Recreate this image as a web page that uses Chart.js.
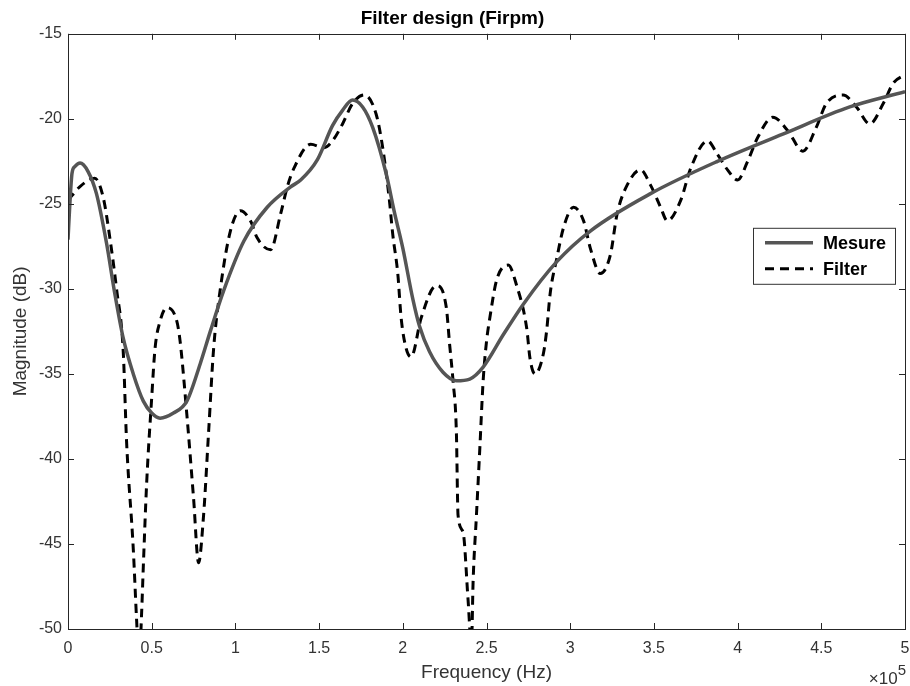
<!DOCTYPE html>
<html>
<head>
<meta charset="utf-8">
<script src="https://cdn.jsdelivr.net/npm/chart.js@4.4.0/dist/chart.umd.min.js"></script>
<style>
  html, body { margin: 0; padding: 0; background: #fff; }
  #wrap { width: 910px; height: 686px; }
</style>
</head>
<body>
<div id="wrap"><canvas id="filterChart"></canvas></div>
<script>
// frequency in units of 10^5 Hz, magnitude in dB
const mesureFreq = [0, 0.01, 0.024, 0.042, 0.072, 0.12, 0.17, 0.23, 0.28, 0.33, 0.39, 0.45, 0.5, 0.55, 0.63, 0.71, 0.79, 0.85, 0.93, 1.05, 1.19, 1.33, 1.39, 1.49, 1.58, 1.64, 1.70, 1.76, 1.82, 1.90, 1.95, 2.00, 2.06, 2.10, 2.16, 2.24, 2.32, 2.40, 2.48, 2.60, 2.72, 2.92, 3.12, 3.48, 3.88, 4.27, 4.67, 5.0];
const mesureDb = [-27.1, -25.2, -23.2, -22.8, -22.6, -23.1, -24.4, -27.3, -30.3, -32.9, -35.0, -36.6, -37.3, -37.6, -37.3, -36.6, -34.4, -32.5, -30.1, -27.2, -25.2, -24.0, -23.6, -22.4, -20.4, -19.5, -18.9, -19.3, -20.5, -23.2, -25.5, -27.6, -30.6, -32.2, -33.7, -34.9, -35.4, -35.3, -34.6, -32.7, -30.9, -28.4, -26.6, -24.4, -22.5, -20.9, -19.3, -18.4];

const filterFreq = [0, 0.07, 0.16, 0.21, 0.25, 0.29, 0.33, 0.35, 0.39, 0.41, 0.425, 0.44, 0.45, 0.47, 0.50, 0.52, 0.55, 0.59, 0.65, 0.67, 0.71, 0.75, 0.78, 0.81, 0.84, 0.87, 0.91, 0.97, 1.03, 1.09, 1.13, 1.21, 1.27, 1.31, 1.35, 1.45, 1.53, 1.58, 1.64, 1.70, 1.77, 1.84, 1.88, 1.92, 1.94, 1.97, 1.99, 2.02, 2.05, 2.11, 2.20, 2.26, 2.28, 2.30, 2.32, 2.33, 2.36, 2.39, 2.41, 2.42, 2.44, 2.46, 2.48, 2.50, 2.52, 2.56, 2.63, 2.68, 2.74, 2.76, 2.79, 2.84, 2.86, 2.88, 2.92, 2.96, 3.02, 3.08, 3.12, 3.18, 3.24, 3.28, 3.34, 3.42, 3.48, 3.54, 3.58, 3.66, 3.72, 3.82, 3.88, 3.94, 4.00, 4.06, 4.12, 4.21, 4.30, 4.39, 4.47, 4.53, 4.63, 4.71, 4.79, 4.87, 4.93, 5.0];
const filterDb = [-24.8, -24.0, -23.5, -24.6, -27.0, -30.0, -33.7, -39.0, -45.3, -49.5, -52.0, -49.0, -46.3, -41.4, -36.4, -33.5, -31.9, -31.1, -31.9, -33.1, -37.4, -42.3, -46.1, -43.3, -38.4, -33.5, -30.0, -26.6, -25.4, -26.0, -27.0, -27.7, -25.6, -24.0, -22.9, -21.5, -21.7, -21.3, -20.3, -19.1, -18.6, -19.7, -21.7, -24.8, -26.8, -29.1, -31.7, -33.5, -34.0, -31.7, -29.8, -31.1, -33.3, -35.4, -38.4, -43.3, -44.3, -48.3, -51.0, -47.2, -43.3, -39.4, -35.4, -33.1, -31.7, -29.5, -28.6, -29.8, -32.3, -34.1, -35.0, -33.8, -32.4, -30.3, -28.2, -26.4, -25.2, -26.0, -27.6, -29.1, -28.0, -25.6, -23.9, -23.0, -23.9, -25.2, -26.0, -24.8, -22.9, -21.3, -22.1, -23.0, -23.6, -22.5, -21.1, -19.9, -20.7, -21.9, -20.5, -19.1, -18.6, -19.3, -20.3, -19.1, -17.9, -17.4];

const xTicks = [0, 0.5, 1, 1.5, 2, 2.5, 3, 3.5, 4, 4.5, 5];
const yTicks = [-50, -45, -40, -35, -30, -25, -20, -15];

const axisColor = '#262626';
const fontFamily = '"Liberation Sans", Arial, Helvetica, sans-serif';

function toPoints(xs, ys) {
  return xs.map((x, i) => ({ x: x, y: ys[i] }));
}

// MATLAB-like box with inward ticks on all four sides, plus the x10^5 exponent
const matlabAxes = {
  id: 'matlabAxes',
  afterDatasetsDraw(chart) {
    const ctx = chart.ctx;
    const a = chart.chartArea;
    const xs = chart.scales.x, ys = chart.scales.y;
    const tl = 6;
    ctx.save();
    ctx.strokeStyle = axisColor;
    ctx.lineWidth = 1;
    ctx.beginPath();
    xTicks.forEach(v => {
      const px = Math.round(xs.getPixelForValue(v)) + 0.5;
      ctx.moveTo(px, a.bottom); ctx.lineTo(px, a.bottom - tl);
      ctx.moveTo(px, a.top); ctx.lineTo(px, a.top + tl);
    });
    yTicks.forEach(v => {
      const py = Math.round(ys.getPixelForValue(v)) + 0.5;
      ctx.moveTo(a.left, py); ctx.lineTo(a.left + tl, py);
      ctx.moveTo(a.right, py); ctx.lineTo(a.right - tl, py);
    });
    ctx.stroke();
    ctx.strokeRect(Math.round(a.left) + 0.5, Math.round(a.top) + 0.5,
      Math.round(a.right - a.left), Math.round(a.bottom - a.top));

    // exponent label
    ctx.fillStyle = '#333';
    ctx.textBaseline = 'alphabetic';
    ctx.textAlign = 'right';
    ctx.font = '15px ' + fontFamily;
    ctx.fillText('5', a.right + 1, 675);
    const w5 = ctx.measureText('5').width;
    ctx.font = '17px ' + fontFamily;
    ctx.fillText('\u00d710', a.right + 1 - w5, 684);
    ctx.restore();
  }
};

// legend box inside the plot, upper right
const boxLegend = {
  id: 'boxLegend',
  afterDraw(chart) {
    const ctx = chart.ctx;
    const a = chart.chartArea;
    const right = a.right - 10;
    const left = right - 142;
    const top = a.top + 194;
    const h = 56;
    ctx.save();
    ctx.fillStyle = '#fff';
    ctx.fillRect(left, top, right - left, h);
    ctx.strokeStyle = '#333';
    ctx.lineWidth = 1;
    ctx.strokeRect(left + 0.5, top + 0.5, right - left, h);
    ctx.font = 'bold 18px ' + fontFamily;
    ctx.textBaseline = 'middle';
    ctx.textAlign = 'left';
    chart.data.datasets.forEach((ds, i) => {
      const y = top + 15 + i * 26;
      ctx.strokeStyle = ds.borderColor;
      ctx.lineWidth = ds.borderWidth;
      ctx.setLineDash(ds.borderDash || []);
      ctx.beginPath();
      ctx.moveTo(left + 12, y);
      ctx.lineTo(left + 60, y);
      ctx.stroke();
      ctx.setLineDash([]);
      ctx.fillStyle = '#000';
      ctx.fillText(ds.label, left + 70, y + 1);
    });
    ctx.restore();
  }
};

const ctx = document.getElementById('filterChart').getContext('2d');
const chart = new Chart(ctx, {
  type: 'line',
  data: {
    datasets: [{
      label: 'Mesure',
      data: toPoints(mesureFreq, mesureDb),
      borderColor: '#555555',
      borderWidth: 3.5,
      pointRadius: 0,
      cubicInterpolationMode: 'monotone',
      fill: false
    }, {
      label: 'Filter',
      data: toPoints(filterFreq, filterDb),
      borderColor: '#000000',
      borderWidth: 3,
      borderDash: [9, 6],
      pointRadius: 0,
      cubicInterpolationMode: 'monotone',
      fill: false
    }]
  },
  options: {
    responsive: true,
    maintainAspectRatio: false,
    animation: false,
    layout: { padding: { left: 0, right: 5, top: 0, bottom: 0 } },
    plugins: {
      legend: { display: false },
      tooltip: { enabled: false },
      title: {
        display: true,
        text: 'Filter design (Firpm)',
        color: '#000',
        font: { family: fontFamily, size: 19, weight: 'bold' },
        padding: { top: 7, bottom: 4 }
      }
    },
    scales: {
      x: {
        type: 'linear',
        min: 0,
        max: 5,
        afterFit: s => { s.height = 57; s.paddingLeft = 0; s.paddingRight = 0; },
        afterBuildTicks: s => { s.ticks = xTicks.map(v => ({ value: v })); },
        ticks: {
          color: '#333',
          padding: 10,
          maxRotation: 0,
          font: { family: fontFamily, size: 16 },
          callback: v => String(v)
        },
        grid: { display: false, drawTicks: false },
        border: { display: false },
        title: {
          display: true,
          text: 'Frequency (Hz)',
          color: '#333',
          font: { family: fontFamily, size: 19 },
          padding: { top: 0, bottom: 2 }
        }
      },
      y: {
        min: -50,
        max: -15,
        afterFit: s => { s.width = 68; s.paddingTop = 0; s.paddingBottom = 0; },
        afterBuildTicks: s => { s.ticks = yTicks.map(v => ({ value: v })); },
        ticks: {
          color: '#333',
          padding: 6,
          font: { family: fontFamily, size: 16 },
          callback: v => String(v)
        },
        grid: { display: false, drawTicks: false },
        border: { display: false },
        title: {
          display: true,
          text: 'Magnitude (dB)',
          color: '#333',
          font: { family: fontFamily, size: 19 },
          padding: { top: 9, bottom: 0 }
        }
      }
    }
  },
  plugins: [matlabAxes, boxLegend]
});
</script>
</body>
</html>
